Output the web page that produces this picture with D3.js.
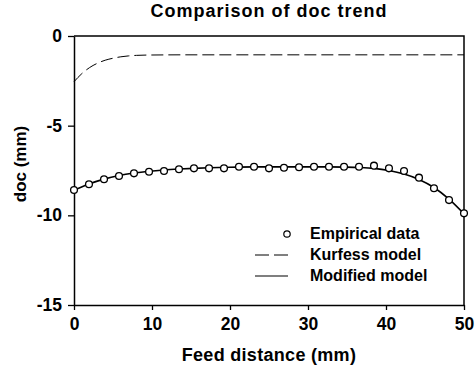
<!DOCTYPE html>
<html lang="en">
<head>
    <meta charset="UTF-8">
    <title>Comparison of doc trend</title>
    <script src="https://d3js.org/d3.v7.min.js"></script>
    <style>
        body { margin: 0; background: #fff; }
        svg { font-family: Arial, "Liberation Sans", sans-serif; }
        .bold { font-weight: bold; }
    </style>
</head>
<body>
    <div id="chart"></div>
    <script>
        // empirical data points (feed distance in mm, doc in mm)
        const empX = [0, 1.92, 3.85, 5.77, 7.69, 9.62, 11.54, 13.46, 15.38, 17.31, 19.23, 21.15, 23.08, 25,
                      26.92, 28.85, 30.77, 32.69, 34.62, 36.54, 38.46, 40.38, 42.31, 44.23, 46.15, 48.08, 50];
        const empY = [-8.59, -8.27, -7.99, -7.81, -7.66, -7.57, -7.53, -7.43, -7.38, -7.38, -7.38, -7.29, -7.29, -7.38,
                      -7.35, -7.32, -7.29, -7.29, -7.29, -7.29, -7.23, -7.38, -7.53, -7.90, -8.49, -9.15, -9.89];

        // modified model curve
        const modY = [-8.6, -8.25, -7.98, -7.78, -7.64, -7.54, -7.47, -7.42, -7.38, -7.35, -7.33, -7.31, -7.30, -7.30,
                      -7.30, -7.30, -7.30, -7.30, -7.31, -7.33, -7.38, -7.50, -7.70, -8.0, -8.45, -9.1, -9.92];

        // Kurfess model curve
        const kurX = [0, 1, 2, 3, 4, 5, 6, 7, 8, 10, 15, 20, 30, 40, 50];
        const kurY = [-2.55, -2.1, -1.76, -1.52, -1.35, -1.24, -1.16, -1.11, -1.08, -1.06, -1.05, -1.05, -1.05, -1.05, -1.05];

        const xTicks = [0, 10, 20, 30, 40, 50];
        const yTicks = [0, -5, -10, -15];
        const legendLabels = ["Empirical data", "Kurfess model", "Modified model"];

        const width = 476, height = 375;
        const mLeft = 74, mRight = 464, mTop = 36, mBottom = 305;

        const svg = d3.select("#chart").append("svg")
            .attr("width", width)
            .attr("height", height);

        const x = d3.scaleLinear().domain([0, 50]).range([mLeft, mRight]);
        const y = d3.scaleLinear().domain([-15, 0]).range([mBottom, mTop]);

        // frame (top + right)
        svg.append("path")
            .attr("d", `M${mLeft},${mTop}H${mRight}V${mBottom}`)
            .attr("fill", "none")
            .attr("stroke", "#000")
            .attr("stroke-width", 1.5);

        const xAxis = svg.append("g")
            .attr("transform", `translate(0,${mBottom})`)
            .call(d3.axisBottom(x).tickValues(xTicks).tickSize(5).tickPadding(8).tickSizeOuter(0));

        const yAxis = svg.append("g")
            .attr("transform", `translate(${mLeft},0)`)
            .call(d3.axisLeft(y).tickValues(yTicks).tickFormat(d => String(d)).tickSize(6).tickPadding(6).tickSizeOuter(0));

        [xAxis, yAxis].forEach(g => {
            g.select(".domain").attr("stroke-width", 1.5);
            g.selectAll(".tick line").attr("stroke-width", 1.3);
            g.selectAll("text")
                .attr("class", "bold")
                .style("font-size", "17.5px")
                .style("font-family", "Arial, 'Liberation Sans', sans-serif")
                .attr("fill", "#000");
        });

        // Kurfess model (dashed)
        const kurLine = d3.line()
            .x((d, i) => x(kurX[i]))
            .y(d => y(d))
            .curve(d3.curveMonotoneX);

        svg.append("path")
            .datum(kurY)
            .attr("d", kurLine)
            .attr("fill", "none")
            .attr("stroke", "#000")
            .attr("stroke-width", 1)
            .attr("stroke-dasharray", "12,5");

        // Modified model (solid)
        const modLine = d3.line()
            .x((d, i) => x(empX[i]))
            .y(d => y(d))
            .curve(d3.curveMonotoneX);

        svg.append("path")
            .datum(modY)
            .attr("d", modLine)
            .attr("fill", "none")
            .attr("stroke", "#000")
            .attr("stroke-width", 1.6);

        // Empirical points
        svg.selectAll(".pt")
            .data(empY)
            .enter().append("circle")
            .attr("class", "pt")
            .attr("cx", (d, i) => x(empX[i]))
            .attr("cy", d => y(d))
            .attr("r", 3.4)
            .attr("fill", "#fff")
            .attr("stroke", "#000")
            .attr("stroke-width", 1.3);

        // title and axis labels
        svg.append("text")
            .attr("class", "bold")
            .attr("x", (mLeft + mRight) / 2)
            .attr("y", 17)
            .attr("text-anchor", "middle")
            .style("font-size", "18px")
            .style("letter-spacing", "1px")
            .text("Comparison of doc trend");

        svg.append("text")
            .attr("class", "bold")
            .attr("x", (mLeft + mRight) / 2)
            .attr("y", 361)
            .attr("text-anchor", "middle")
            .style("font-size", "18px")
            .style("letter-spacing", "0.3px")
            .text("Feed distance (mm)");

        svg.append("text")
            .attr("class", "bold")
            .attr("transform", "translate(26,164) rotate(-90)")
            .attr("text-anchor", "middle")
            .style("font-size", "17px")
            .text("doc (mm)");

        // legend
        const legend = svg.append("g").attr("transform", "translate(255,0)");
        const rowY = [234, 255, 276];

        legend.append("circle")
            .attr("cx", 32)
            .attr("cy", rowY[0])
            .attr("r", 3.2)
            .attr("fill", "#fff")
            .attr("stroke", "#000")
            .attr("stroke-width", 1.2);

        legend.append("line")
            .attr("x1", 0).attr("x2", 33)
            .attr("y1", rowY[1]).attr("y2", rowY[1])
            .attr("stroke", "#000")
            .attr("stroke-width", 1)
            .attr("stroke-dasharray", "14,5");

        legend.append("line")
            .attr("x1", 0).attr("x2", 33)
            .attr("y1", rowY[2]).attr("y2", rowY[2])
            .attr("stroke", "#000")
            .attr("stroke-width", 1.2);

        legend.selectAll(".lt")
            .data(legendLabels)
            .enter().append("text")
            .attr("class", "lt bold")
            .attr("x", 55)
            .attr("y", (d, i) => rowY[i] + 5)
            .style("font-size", "16px")
            .text(d => d);
    </script>
</body>
</html>
